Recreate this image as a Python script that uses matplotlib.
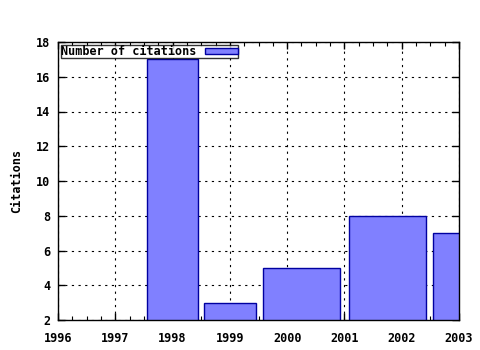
import matplotlib
matplotlib.use("Agg")
import matplotlib.pyplot as plt
from matplotlib.ticker import MultipleLocator

# citations per year (gnuplot style boxes, width from neighbours)
years = [1998, 1999, 2000, 2002, 2003]
citations = [17, 3, 5, 8, 7]
x_ticks = [1996, 1997, 1998, 1999, 2000, 2001, 2002, 2003]
y_ticks = [2, 4, 6, 8, 10, 12, 14, 16, 18]

# box edges: half way to each neighbour, then scaled by 0.9 (like "boxwidth 0.9 relative")
lefts = []
widths = []
for i, yr in enumerate(years):
    lo = yr - (yr - years[i - 1]) / 2 if i > 0 else yr - 0.5
    hi = yr + (years[i + 1] - yr) / 2 if i < len(years) - 1 else yr + 0.5
    mid = (lo + hi) / 2
    w = (hi - lo) * 0.9
    lefts.append(mid - w / 2)
    widths.append(w)

font = {"family": "DejaVu Sans Mono", "weight": "bold", "size": 8.5}

fig = plt.figure(figsize=(4.8, 3.5), dpi=100)
ax = fig.add_axes([58 / 480, 30 / 350, 401 / 480, 278 / 350])

ax.bar(lefts, citations, width=widths, align="edge", bottom=0,
       color="#8080ff", edgecolor="#0000a0", linewidth=1.0, zorder=2,
       label="Number of citations")

ax.set_xlim(1996, 2003)
ax.set_ylim(2, 18)
ax.set_xticks(x_ticks)
ax.set_yticks(y_ticks)
ax.xaxis.set_minor_locator(MultipleLocator(0.25))
ax.set_xticklabels([str(t) for t in x_ticks], fontdict=font)
ax.set_yticklabels([str(t) for t in y_ticks], fontdict=font)
ax.tick_params(axis="x", which="major", direction="in", length=5, top=True,
               width=1, pad=9)
ax.tick_params(axis="x", which="minor", direction="in", length=3, top=True,
               width=0.8)
ax.tick_params(axis="y", which="major", direction="in", length=5, right=True,
               width=1, pad=5.5)

ax.grid(True, which="major", color="black", linestyle=(0, (2, 4)),
        linewidth=0.8, zorder=0)
ax.set_axisbelow(True)

for s in ax.spines.values():
    s.set_linewidth(1.0)
    s.set_zorder(3)

ax.set_ylabel("Citations", fontdict=font, labelpad=9)

leg = ax.legend(loc="upper left", bbox_to_anchor=(0.0, 1.0), prop=font,
                frameon=True, fancybox=False, markerfirst=False,
                handlelength=2.8, handleheight=0.45, borderpad=0.0,
                borderaxespad=0.25, handletextpad=0.7)
leg.get_frame().set_edgecolor("black")
leg.get_frame().set_linewidth(1.0)

fig.savefig("out.png", dpi=100)
